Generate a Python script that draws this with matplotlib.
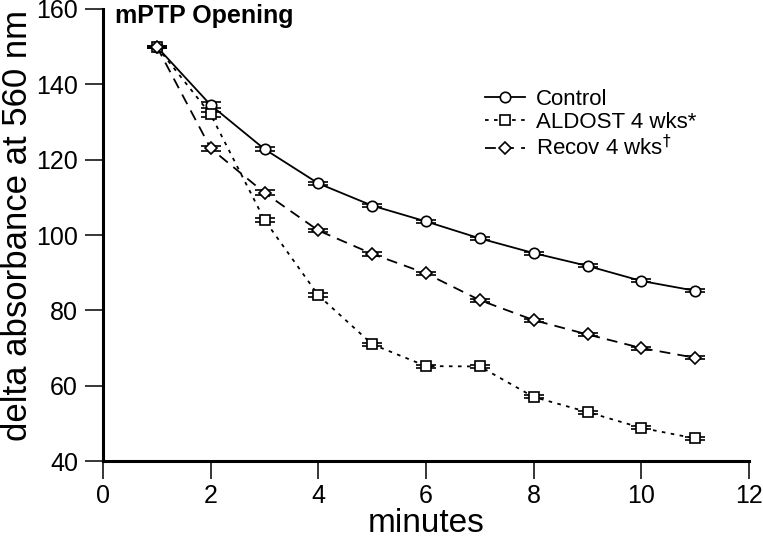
import matplotlib
matplotlib.use("Agg")
import matplotlib.pyplot as plt
from matplotlib.lines import Line2D

plt.rcParams['font.family'] = ['Liberation Sans', 'DejaVu Sans']

minutes = [1, 2, 3, 4, 5, 6, 7, 8, 9, 10, 11]
control = [150, 134.5, 122.8, 113.7, 107.8, 103.6, 99.1, 95.2, 91.8, 87.8, 85.2]
aldost = [150, 132, 104, 84, 71, 65.2, 65.1, 57, 53, 48.8, 46]
recov = [150, 123, 111.2, 101.2, 95, 89.8, 82.7, 77.4, 73.6, 70, 67.4]
control_err = [0.3, 0.7, 0.6, 0.5, 0.4, 0.4, 0.4, 0.4, 0.4, 0.4, 0.4]
aldost_err = [0.3, 0.7, 0.6, 0.5, 0.4, 0.4, 0.4, 0.4, 0.4, 0.4, 0.4]
recov_err = [0.3, 0.7, 0.7, 0.5, 0.5, 0.5, 0.4, 0.4, 0.4, 0.4, 0.4]

fig = plt.figure(figsize=(7.63, 5.42), dpi=100)
ax = fig.add_axes([0.135, 0.1494, 0.8467, 0.834])

common = dict(color='black', mfc='white', mec='black', mew=1.2,
              ecolor='black', elinewidth=1, capsize=7, capthick=1.4)
ax.errorbar(minutes, control, yerr=control_err, marker='o', ls='-', lw=1.3,
            ms=7.5, **common)
ax.errorbar(minutes, aldost, yerr=aldost_err, marker='s', ls=(0, (2, 3)), lw=1.3,
            ms=7, **common)
ax.errorbar(minutes, recov, yerr=recov_err, marker='D', ls=(0, (6, 4)), lw=1.3,
            ms=6.5, **common)

ax.set_xlim(0, 12)
ax.set_ylim(40, 160)
ax.set_xticks([0, 2, 4, 6, 8, 10, 12])
ax.set_yticks([40, 60, 80, 100, 120, 140, 160])
for s in ['top', 'right']:
    ax.spines[s].set_visible(False)
for s in ['left', 'bottom']:
    ax.spines[s].set_linewidth(2.2)
ax.tick_params(direction='out', length=13, width=1.1, labelsize=18)
ax.tick_params(axis='y', pad=5)
ax.tick_params(axis='x', pad=3.5)
ax.set_xlabel('minutes', fontsize=24, labelpad=0)
ax.set_ylabel('delta absorbance at 560 nm', fontsize=25)
ax.yaxis.set_label_coords(-0.107, 0.522)
ax.text(0.018, 1.01, 'mPTP Opening', transform=ax.transAxes, fontsize=18,
        fontweight='bold', va='top', ha='left')

handles = [
    Line2D([], [], color='black', ls='-', lw=1.3, marker='o', ms=7.5, mfc='white', mec='black', mew=1.2),
    Line2D([], [], color='black', ls=(0, (2, 3)), lw=1.3, marker='s', ms=7, mfc='white', mec='black', mew=1.2),
    Line2D([], [], color='black', ls=(0, (6, 4)), lw=1.3, marker='D', ms=6.5, mfc='white', mec='black', mew=1.2),
]
labels = ['Control', 'ALDOST 4 wks*', 'Recov 4 wks$^{\\dagger}$']
ax.legend(handles, labels, loc='upper left',
          bbox_to_anchor=(485 / 763, 1 - 89 / 542), bbox_transform=fig.transFigure,
          frameon=False, fontsize=16, handlelength=1.8, handletextpad=0.5,
          labelspacing=0.1, borderpad=0, borderaxespad=0)

fig.savefig('out.png', dpi=100)
